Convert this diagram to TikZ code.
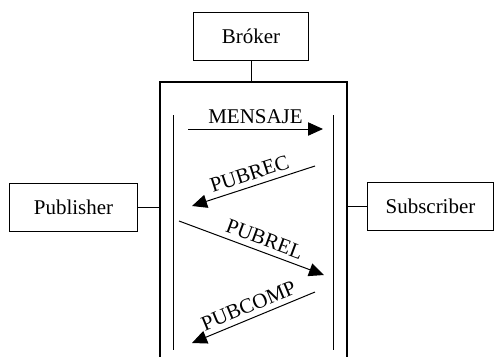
\documentclass[tikz,border=0pt]{standalone}
\usepackage{fontspec}
\setmainfont{Liberation Serif}
\usetikzlibrary{arrows.meta}

\tikzset{
  caja/.style={draw, line width=0.03cm, minimum height=1.44cm, inner sep=0pt},
  linea/.style={line width=0.03cm},
  flecha/.style={line width=0.03cm, -{Triangle[length=0.45cm,width=0.4cm]}},
  etiqueta/.style={sloped, above, inner sep=4.5pt},
}

\begin{document}
\begin{tikzpicture}[x=0.03cm, y=-0.03cm, font=\fontsize{17.9}{21}\selectfont]
\useasboundingbox (0,0) rectangle (494,356);
\node (broker) at (251,36) [caja, minimum width=3.42cm] {Bróker};
\node (pub) at (73.5,207) [caja, minimum width=3.81cm] {Publisher};
\node (sub) at (430.5,206.5) [caja, minimum width=3.75cm] {Subscriber};
\node (canal) at (253.5,231) [draw, line width=0.07cm, minimum width=5.61cm, minimum height=8.94cm] {};
\draw [linea] (broker.south) -- (broker.south |- canal.north);
\draw [linea] (pub.east) -- (pub.east -| canal.west);
\draw [linea] (sub.west) -- (sub.west -| canal.east);
% lineas de vida
\coordinate (li1) at (173,115);
\coordinate (li2) at (173,350);
\coordinate (ld1) at (333,115);
\coordinate (ld2) at (333,350);
\draw [linea] (li1) -- (li2);
\draw [linea] (ld1) -- (ld2);
% mensajes
\coordinate (m1) at (188,129);
\coordinate (m2) at (323,129);
\coordinate (r1) at (315,166);
\coordinate (r2) at (192,206);
\coordinate (l1) at (179,221);
\coordinate (l2) at (324,275);
\coordinate (c1) at (315,292);
\coordinate (c2) at (192,343);
\draw [flecha] (m1) -- node[etiqueta, midway] {MENSAJE} (m2);
\draw [flecha] (r1) -- node[etiqueta, midway] {PUBREC} (r2);
\draw [flecha] (l1) -- node[etiqueta, pos=0.56] {PUBREL} (l2);
\draw [flecha] (c1) -- node[etiqueta, midway] {PUBCOMP} (c2);
\end{tikzpicture}
\end{document}
